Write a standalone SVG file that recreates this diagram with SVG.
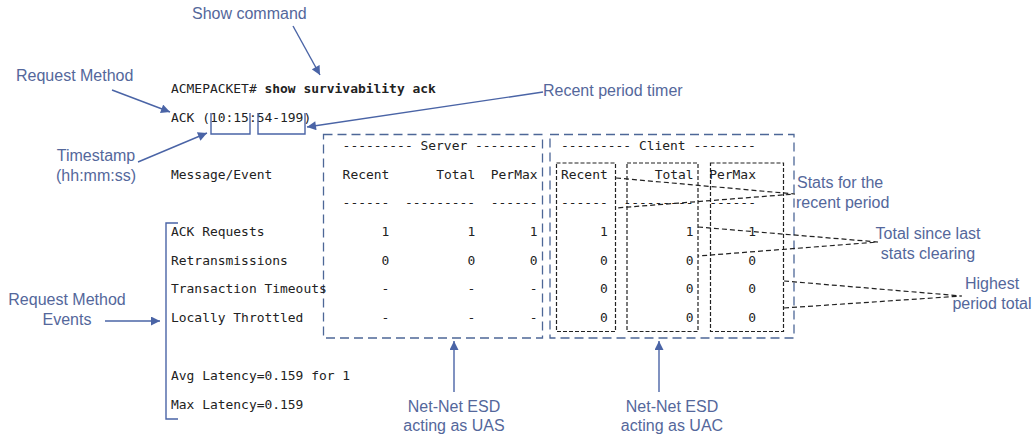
<svg xmlns="http://www.w3.org/2000/svg" width="1032" height="436" viewBox="0 0 1032 436">
<style>
.m{font-family:"DejaVu Sans Mono","Liberation Mono",monospace;font-size:12.95px;fill:#222}
.b{font-weight:bold}
.e{text-anchor:end}
.l{font-family:"Liberation Sans",Arial,sans-serif;font-size:16px;fill:#54679b}
.c{text-anchor:middle}
.bd{fill:none;stroke:#4d6797;stroke-width:1.3;stroke-dasharray:9,5}
.kd{fill:none;stroke:#222;stroke-width:1.2;stroke-dasharray:4,2}
.cl{fill:none;stroke:#222;stroke-width:1.2;stroke-dasharray:5,3}
.ar{fill:none;stroke:#4a64a6;stroke-width:1.4}
.bl{fill:none;stroke:#4a64a6;stroke-width:1.4}
</style>
<defs>
<marker id="ah" viewBox="0 0 10 10" refX="10" refY="5" markerWidth="10" markerHeight="9" markerUnits="userSpaceOnUse" orient="auto">
<path d="M0,0 L10,5 L0,10 z" fill="#4a64a6"/>
</marker>
</defs>
<rect width="1032" height="436" fill="#fff"/>

<g id="server-box"><rect class="bd" x="323.5" y="134.5" width="219" height="203.5"/></g>
<g id="client-box"><rect class="bd" x="550" y="134.5" width="244" height="203.5"/></g>
<g id="client-recent-box"><rect class="kd" x="556.5" y="163" width="59" height="168.5"/></g>
<g id="client-total-box"><rect class="kd" x="627" y="163" width="71" height="168.5"/></g>
<g id="client-permax-box"><rect class="kd" x="710.5" y="163" width="73" height="168.5"/></g>

<g id="output">
<text class="m" x="171" y="93">ACMEPACKET# <tspan class="b">show survivability ack</tspan></text>
<text class="m" x="171" y="122">ACK (10:15:54-199)</text>
<text class="m" x="342.6" y="150">--------- Server --------</text>
<text class="m" x="561" y="150">--------- Client --------</text>
<text class="m" x="171" y="179">Message/Event</text>
<text class="m" x="342.6" y="179">Recent</text>
<text class="m e" x="475.2" y="179">Total</text>
<text class="m" x="490.8" y="179">PerMax</text>
<text class="m" x="561" y="179">Recent</text>
<text class="m e" x="693.6" y="179">Total</text>
<text class="m" x="709.2" y="179">PerMax</text>
<text class="m" x="342.6" y="207">------</text>
<text class="m" x="405" y="207">---------</text>
<text class="m" x="490.8" y="207">------</text>
<text class="m" x="561" y="207">------</text>
<text class="m" x="623.4" y="207">---------</text>
<text class="m" x="709.2" y="207">------</text>

<text class="m" x="171" y="236">ACK Requests</text>
<text class="m" x="171" y="265">Retransmissions</text>
<text class="m" x="171" y="293">Transaction Timeouts</text>
<text class="m" x="171" y="322">Locally Throttled</text>

<text class="m e" x="389.4" y="236">1</text><text class="m e" x="475.2" y="236">1</text><text class="m e" x="537.6" y="236">1</text>
<text class="m e" x="607.8" y="236">1</text><text class="m e" x="693.6" y="236">1</text><text class="m e" x="756" y="236">1</text>

<text class="m e" x="389.4" y="265">0</text><text class="m e" x="475.2" y="265">0</text><text class="m e" x="537.6" y="265">0</text>
<text class="m e" x="607.8" y="265">0</text><text class="m e" x="693.6" y="265">0</text><text class="m e" x="756" y="265">0</text>

<text class="m e" x="389.4" y="293">-</text><text class="m e" x="475.2" y="293">-</text><text class="m e" x="537.6" y="293">-</text>
<text class="m e" x="607.8" y="293">0</text><text class="m e" x="693.6" y="293">0</text><text class="m e" x="756" y="293">0</text>

<text class="m e" x="389.4" y="322">-</text><text class="m e" x="475.2" y="322">-</text><text class="m e" x="537.6" y="322">-</text>
<text class="m e" x="607.8" y="322">0</text><text class="m e" x="693.6" y="322">0</text><text class="m e" x="756" y="322">0</text>

<text class="m" x="171" y="380">Avg Latency=0.159 for 1</text>
<text class="m" x="171" y="409">Max Latency=0.159</text>
</g>

<g id="label-show-command"><text class="l" x="192" y="19">Show command</text></g>
<g id="label-request-method"><text class="l" x="16" y="81">Request Method</text></g>
<g id="label-timestamp"><text class="l c" x="96" y="161">Timestamp</text><text class="l c" x="96" y="181">(hh:mm:ss)</text></g>
<g id="label-recent-period-timer"><text class="l" x="543" y="96">Recent period timer</text></g>
<g id="label-stats-recent"><text class="l" x="797" y="188">Stats for the</text><text class="l" x="796" y="208">recent period</text></g>
<g id="label-total-since"><text class="l c" x="928" y="239">Total since last</text><text class="l c" x="928" y="259">stats clearing</text></g>
<g id="label-highest"><text class="l c" x="992" y="289">Highest</text><text class="l c" x="992" y="309">period total</text></g>
<g id="label-events"><text class="l c" x="67" y="305">Request Method</text><text class="l c" x="67" y="325">Events</text></g>
<g id="label-uas"><text class="l c" x="454" y="412">Net-Net ESD</text><text class="l c" x="454" y="431">acting as UAS</text></g>
<g id="label-uac"><text class="l c" x="672" y="412">Net-Net ESD</text><text class="l c" x="672" y="431">acting as UAC</text></g>

<g id="connectors">
<path class="bl" d="M211,113 V134 H250 V113"/>
<path class="bl" d="M258,113 V134 H305 V113"/>
<path class="bl" d="M178,223 H166 V419 H178"/>
<path class="ar" marker-end="url(#ah)" d="M293,26 L320,75"/>
<path class="ar" marker-end="url(#ah)" d="M112,90 L170,112"/>
<path class="ar" marker-end="url(#ah)" d="M138,162 L207,133"/>
<path class="ar" marker-end="url(#ah)" d="M543,92 L307,127"/>
<path class="ar" marker-end="url(#ah)" d="M105,321 L160,321"/>
<path class="ar" marker-end="url(#ah)" d="M454,392 L454,341"/>
<path class="ar" marker-end="url(#ah)" d="M659,392 L659,341"/>
<path class="cl" d="M616,178 L795,194 L616,208"/>
<path class="cl" d="M698,227 L878,242 L698,256"/>
<path class="cl" d="M784,281 L962,296 L784,308"/>
</g>
</svg>
